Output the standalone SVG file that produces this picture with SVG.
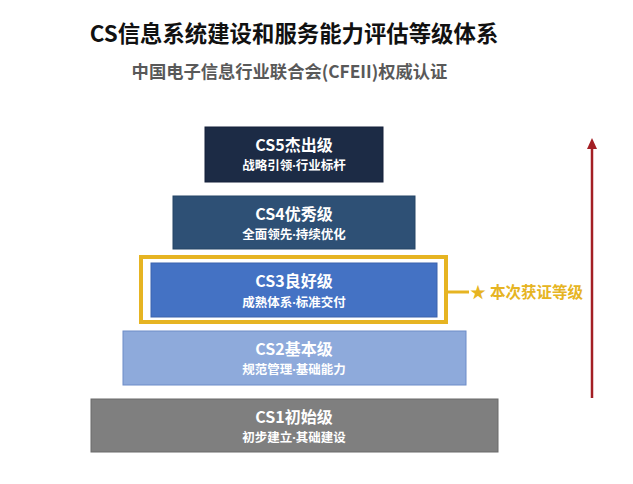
<svg xmlns="http://www.w3.org/2000/svg" width="633" height="484" viewBox="0 0 633 484">
<style>
text{font-family:"Noto Sans CJK SC","Noto Sans",sans-serif;font-weight:700;text-anchor:middle}
.t{font-size:16px;fill:#fff}
.s{font-size:12.5px;fill:#fff}
.d{font-family:"Noto Sans",sans-serif}
.box{stroke-width:1}
</style>
<defs>
<marker id="ah" markerWidth="11" markerHeight="10" refX="1" refY="5" orient="auto" markerUnits="userSpaceOnUse">
<path d="M0,0 L11,5 L0,10 Z" fill="#a31f24"/>
</marker>
</defs>
<rect width="633" height="484" fill="#fff"/>
<text x="294" y="42" style="font-size:22.4px;fill:#111">CS信息系统建设和服务能力评估等级体系</text>
<text x="289.5" y="78" style="font-size:17.3px;fill:#595959">中国电子信息行业联合会(CFEII)权威认证</text>

<g id="cs5">
<rect class="box" x="205" y="127" width="178" height="55" fill="#1c2b45" stroke="#15203a"/>
<text class="t" x="294" y="151">CS5杰出级</text>
<text class="s" x="294" y="170">战略引领<tspan class="d">·</tspan>行业标杆</text>
</g>
<g id="cs4">
<rect class="box" x="173" y="196" width="242" height="53" fill="#2e5075" stroke="#254466"/>
<text class="t" x="294" y="220">CS4优秀级</text>
<text class="s" x="294" y="239">全面领先<tspan class="d">·</tspan>持续优化</text>
</g>
<g id="cs3">
<rect x="141" y="257" width="305" height="65" fill="none" stroke="#e6b422" stroke-width="4"/>
<rect class="box" x="151" y="263" width="286" height="54" fill="#4472c4" stroke="#3a63ad"/>
<text class="t" x="294" y="287">CS3良好级</text>
<text class="s" x="294" y="306.5">成熟体系<tspan class="d">·</tspan>标准交付</text>
</g>
<g id="cs2">
<rect class="box" x="123" y="331" width="343" height="54" fill="#8eaadb" stroke="#6c8cc8"/>
<text class="t" x="294" y="355">CS2基本级</text>
<text class="s" x="294" y="374">规范管理<tspan class="d">·</tspan>基础能力</text>
</g>
<g id="cs1">
<rect class="box" x="91" y="399" width="407" height="53" fill="#7f7f7f" stroke="#6a6a6a"/>
<text class="t" x="294" y="423">CS1初始级</text>
<text class="s" x="294" y="442">初步建立<tspan class="d">·</tspan>其础建设</text>
</g>
<g id="badge">
<text x="478" y="298" style="font-size:16px;fill:#e6b422">★</text>
<text x="490" y="298" style="font-size:15.5px;fill:#e6b422;text-anchor:start">本次获证等级</text>
</g>
<g id="connectors">
<line x1="448" y1="292" x2="469" y2="292" stroke="#e6b422" stroke-width="3"/>
<line x1="592" y1="398" x2="592" y2="148" stroke="#a31f24" stroke-width="2.5" marker-end="url(#ah)"/>
</g>
</svg>
